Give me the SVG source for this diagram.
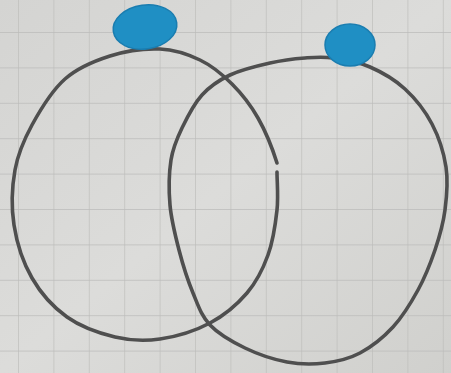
<svg xmlns="http://www.w3.org/2000/svg" width="451" height="373" viewBox="0 0 451 373">
<defs>
<linearGradient id="paper" x1="0" y1="0" x2="1" y2="1">
<stop offset="0" stop-color="#d4d4d2"/>
<stop offset="0.5" stop-color="#dcdcda"/>
<stop offset="1" stop-color="#d0d0cd"/>
</linearGradient>
<pattern id="grid" x="18" y="32" width="35.4" height="35.4" patternUnits="userSpaceOnUse">
<path d="M0 0H35.4M0 0V35.4" fill="none" stroke="#bcbcba" stroke-width="1.3"/>
</pattern>
</defs>
<style>
.loop{fill:none;stroke:#4f4f4f;stroke-width:3.6;stroke-linecap:round;stroke-linejoin:round}
.dot{fill:#1f8fc4;stroke:#1a7db0;stroke-width:1.5}
</style>
<rect width="451" height="373" fill="url(#paper)"/>
<rect width="451" height="373" fill="url(#grid)"/>
<g id="loop-left">
<path class="loop" d="M277 172 C277 182 278.5 196.2 277 210 S273 241.2 268 255 S256.7 281.7 247 293 S224.5 315.3 210 323 S175.8 336.7 160 339 S130.5 340.7 115 337 S80.8 326.8 67 317 S40.8 293.3 32 278 S16.8 243 14 225 S12 186.7 15 170 S23.7 140.2 32 125 S52 90.5 65 79 S94.2 61 110 56 S145 48.3 160 49 S188 54.2 200 60 S222.3 74.3 232 84 S250.5 104.8 258 118 S273.5 151.8 277 163"/>
</g>
<g id="loop-right">
<path class="loop" d="M333 58 C343.8 59.5 358 61.8 370 67 S394.7 79.5 405 89 S425.2 111 432 124 S443.8 152.7 446 167 S446.8 196.2 445 210 S439.5 236.7 435 250 S425 277.2 418 290 S402.7 316.5 393 327 S371.3 347 360 353 S337.2 361.5 325 363 S300.3 364.5 287 362 S257.8 354.2 245 348 S218.7 334.2 210 325 S198.2 305.5 193 293 S182.8 264.7 179 250 S171.3 220 170 205 S169 172.8 171 160 S176.8 138.8 182 128 S194 103.8 202 95 S218.7 80.3 230 75 S257.5 65.8 270 63 S294.5 58.8 305 58 S322.2 56.5 333 58 Z"/>
</g>
<g id="dot-left">
<ellipse class="dot" cx="145" cy="27" rx="32" ry="22" transform="rotate(-8 145 27)"/>
</g>
<g id="dot-right">
<ellipse class="dot" cx="350" cy="45" rx="25" ry="21"/>
</g>
</svg>
